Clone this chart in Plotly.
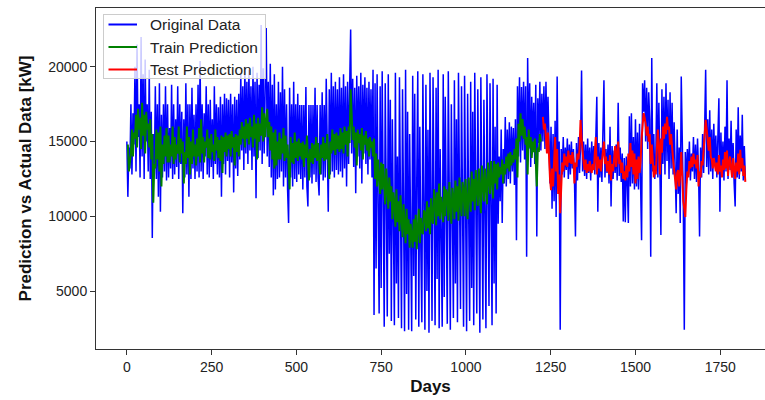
import plotly.graph_objects as go

# Daily load series sampled every 3 days (kW)
orig_step = 3
original = [
    15000, 11300, 14600, 13200, 17500, 12800, 16900, 14800, 20000, 13000,
    21500, 15300, 17500, 12600, 22000, 14000, 19500, 12500, 20500, 15000,
    17500, 13000, 19800, 12500, 17000, 8550, 15500, 12800, 18700, 12500,
    17500, 11300, 18900, 10300, 16800, 12600, 17500, 13000, 18700, 12400,
    17500, 12600, 15900, 13200, 18800, 12500, 17500, 12800, 16500, 13300,
    18700, 12500, 17500, 13500, 17000, 10200, 16500, 12600, 18900, 12800,
    17500, 11300, 17500, 12500, 18600, 13200, 16800, 12500, 17500, 13000,
    18800, 12600, 20400, 13000, 17500, 12500, 16900, 14000, 18700, 12800,
    17500, 12600, 17800, 13300, 16500, 12500, 18700, 13500, 17500, 12800,
    17300, 12600, 18000, 11300, 17500, 13500, 18200, 12800, 17900, 13700,
    17800, 12600, 18200, 13600, 17500, 11600, 18000, 13200, 17800, 12700,
    18200, 13800, 19500, 14400, 18700, 13100, 20000, 14200, 19000, 13500,
    19800, 14400, 18700, 13100, 20000, 14000, 19000, 11200, 19600, 13900,
    18800, 14400, 22800, 13500, 19900, 14200, 18700, 22600, 14000, 19000,
    13300, 20200, 12600, 18800, 11400, 19500, 11800, 17500, 12500, 19000,
    12600, 18300, 13000, 20000, 12000, 18500, 12600, 17500, 11800, 9550,
    18600, 12600, 17500, 12000, 19000, 12500, 17500, 12300, 18200, 12800,
    17450, 12500, 17450, 11800, 17450, 12600, 18650, 12000, 10650, 17450,
    12600, 17450, 12200, 17450, 12800, 18600, 12300, 17450, 12600, 11400,
    17450, 12800, 18300, 12400, 17450, 12600, 19200, 13100, 10300, 18500,
    12800, 19600, 13000, 18700, 12600, 19000, 13100, 18500, 12800, 19300,
    13000, 18600, 12600, 19500, 13200, 18700, 12000, 19000, 13500, 18500,
    22500, 14200, 19200, 13300, 18600, 11550, 19400, 14000, 18700, 13200,
    19600, 12200, 18800, 14200, 19300, 13500, 18600, 12800, 19000, 13800,
    18500, 12600, 19800, 3400, 18900, 6500, 19500, 10800, 3500, 18700,
    5200, 19700, 9000, 2600, 18900, 12000, 3300, 19500, 7500, 17800,
    3000, 16500, 10500, 2700, 19600, 5500, 14000, 3200, 19300, 8800,
    2500, 18500, 11500, 2300, 19800, 4800, 17000, 2400, 15500, 9500,
    2300, 19400, 6000, 18200, 3100, 12500, 19700, 2600, 16000, 7800,
    2900, 19500, 10500, 2400, 18800, 5000, 15800, 2200, 19600, 8200,
    3000, 19300, 11000, 2700, 18600, 5800, 19800, 2500, 14500, 9000,
    2600, 19500, 4600, 18000, 12000, 2800, 19700, 7000, 2400, 17500,
    10000, 3200, 19100, 5500, 16500, 2900, 19600, 8500, 3800, 18700,
    12000, 2600, 19400, 6200, 2300, 18200, 9500, 3000, 19000, 5200,
    17000, 2700, 19600, 10500, 3500, 18500, 6500, 2200, 19300, 11500,
    3100, 17800, 7500, 2500, 19500, 12500, 4000, 18900, 8800, 2700,
    19200, 5500, 16000, 3500, 18800, 9500, 14000, 11000, 15800, 9550,
    14500, 12200, 16650, 12000, 15800, 12500, 16300, 12200, 16000, 13000,
    15900, 12100, 16500, 8400, 18700, 14000, 19300, 13600, 18650, 14400,
    19000, 13800, 18700, 7300, 20600, 14500, 18900, 13300, 18000, 14800,
    17600, 13500, 18800, 8650, 17900, 14900, 19000, 14400, 18200, 15000,
    18700, 14500, 19000, 15300, 18000, 14600, 12200, 16000, 10500, 15500,
    11000, 16400, 9950, 19350, 12000, 15000, 2400, 14500, 12800, 15300,
    12600, 14600, 13100, 15200, 12500, 14800, 12800, 15000, 13200, 14500,
    12600, 8650, 14900, 12400, 15300, 12900, 14700, 19750, 13000, 15000,
    12700, 14800, 12500, 15200, 12900, 14600, 12400, 15000, 13100, 14700,
    12800, 15200, 18000, 10300, 14900, 12600, 14600, 12300, 15000, 19100,
    12600, 14500, 12900, 14800, 12200, 16000, 10650, 14700, 12500, 14400,
    12900, 14800, 12400, 17600, 12700, 14600, 12300, 14200, 9650, 13900,
    9600, 14000, 12200, 9550, 16700, 12000, 16900, 12200, 15300, 11800,
    16500, 12000, 15600, 11800, 16200, 12500, 8400, 18900, 17000, 19100,
    15000, 18600, 14500, 18300, 16500, 7300, 20600, 13000, 15500, 12500,
    14000, 18900, 12600, 17600, 12200, 8750, 18500, 13500, 18000, 12800,
    18900, 13700, 17800, 12500, 18300, 13200, 17600, 12800, 16300, 12000,
    10200, 15800, 11500, 14600, 9550, 19350, 15200, 11000, 2400, 14300,
    12200, 14500, 12800, 15000, 12400, 14200, 13000, 15300, 12500, 14800,
    12300, 15200, 13100, 8650, 14600, 12600, 15500, 12900, 15800, 19800,
    13300, 16500, 12800, 17100, 13000, 15800, 12500, 16200, 13400, 15400,
    12600, 14800, 17900, 10300, 15600, 12700, 15000, 12400, 16000, 13000,
    19100, 12500, 15200, 13100, 16400, 12600, 14900, 12200, 10650, 15800,
    12600, 17300, 12500, 15400, 13000, 16800, 12400, 14700, 12600,
]

# Model output on the training span (first day 3, every 3 days)
train_start = 3
train_pred = [
    14800, 13000, 13600, 14200, 15800, 14000, 15600, 15200, 16800, 14600,
    17200, 15800, 16600, 14500, 17600, 15400, 16800, 14200, 17000, 15800,
    16200, 14600, 16500, 13800, 15500, 10900, 13500, 13200, 15800, 13800,
    15600, 13000, 16000, 12000, 14800, 13500, 15400, 14000, 15900, 13600,
    15400, 13600, 14800, 14000, 16000, 13500, 15300, 13800, 14800, 14200,
    16000, 13600, 15200, 14200, 15000, 12200, 14300, 13500, 16000, 13900,
    15300, 12800, 15000, 13500, 15800, 14000, 14800, 13400, 15200, 14000,
    15900, 13600, 16500, 14200, 15300, 13600, 15000, 14600, 15800, 13900,
    15200, 13800, 15500, 14300, 14800, 13700, 15800, 14400, 15300, 13900,
    15100, 13700, 15400, 12900, 15300, 14300, 15600, 14000, 15400, 14500,
    15500, 14000, 15700, 14600, 15300, 13400, 15500, 14300, 15400, 14000,
    15800, 14800, 16300, 15200, 16000, 14600, 16500, 15200, 16200, 14800,
    16600, 15300, 16000, 14600, 16800, 15200, 16200, 13800, 16600, 15000,
    16200, 15400, 17300, 15000, 16900, 15300, 16400, 17200, 15300, 16300,
    14400, 16000, 13800, 15600, 13200, 15800, 13400, 15000, 13800, 15600,
    13800, 15200, 14200, 15900, 13700, 15400, 13900, 14800, 13400, 11800,
    15300, 13600, 14900, 13500, 15600, 13900, 15000, 13700, 15200, 14000,
    14900, 13800, 15000, 13300, 14800, 13900, 15400, 13500, 12400, 14500,
    13600, 14900, 13500, 14800, 13900, 15300, 13700, 14900, 13900, 12800,
    14800, 13900, 15300, 13700, 14900, 13800, 15500, 14200, 12500, 15000,
    14200, 15800, 14400, 15500, 14100, 15600, 14500, 15400, 14300, 15900,
    14500, 15600, 14200, 16000, 14800, 15700, 14000, 16000, 14900, 18500,
    16200, 15100, 16000, 14600, 15600, 13400, 15800, 14900, 15500, 14400,
    15900, 13800, 15400, 14800, 15700, 14400, 15200, 14000, 15300, 14600,
    15000, 14000, 15200, 12500, 14200, 12000, 13800, 12800, 11500, 13600,
    11800, 13500, 12200, 10800, 13200, 11800, 10500, 12600, 11000, 12000,
    9800, 11600, 10900, 9300, 11800, 9600, 11000, 9000, 11400, 9900,
    8600, 10800, 9800, 8200, 10500, 8800, 9800, 7900, 9500, 8800,
    7900, 9800, 8300, 10100, 7800, 9200, 10500, 8200, 9900, 9000,
    8800, 10400, 10200, 9000, 11000, 9200, 10600, 8800, 11200, 9800,
    9500, 11800, 11000, 9400, 11600, 10000, 12200, 9800, 11300, 10600,
    9600, 12000, 10000, 11800, 11500, 9700, 12300, 10600, 9500, 11900,
    11300, 9800, 12400, 10300, 12000, 9700, 12600, 11000, 10000, 12300,
    11800, 10000, 12500, 10800, 9800, 12600, 11600, 10300, 13000, 11000,
    12500, 10400, 13100, 12000, 10700, 13200, 11300, 10200, 13400, 12400,
    11000, 13200, 11800, 10800, 13600, 12800, 11500, 13700, 12300, 11200,
    13700, 12200, 13500, 11800, 13600, 12600, 13300, 12800, 13800, 12200,
    13500, 12800, 14000, 13200, 14200, 13000, 14300, 13400, 14100, 13600,
    14500, 13800, 15200, 12600, 16200, 15000, 16900, 15400, 16500, 15200,
    16000, 14800, 15300, 12800, 15800, 14600, 15300, 13900, 15000, 14300,
    15200, 14000, 12000, 14600, 14300, 15500, 15000,
]

# Model output on the held-out span (first day 1227, every 3 days)
test_start = 1227
test_pred = [
    16650, 15800, 16200, 15000, 14200, 15600, 13800, 12500, 11750, 13200,
    12000, 14000, 15300, 13000, 14500, 11500, 12800, 10200, 11800, 13600,
    13000, 14200, 13400, 14000, 13300, 14400, 13600, 14100, 13500, 14300,
    13800, 12200, 13600, 13300, 14200, 13800, 14500, 16450, 15200, 14000,
    13600, 13100, 13800, 12900, 13500, 13000, 13700, 13200, 12900, 13500,
    13100, 14200, 15300, 12800, 14000, 13200, 13800, 13000, 13600, 14600,
    15000, 13500, 14000, 13000, 13700, 12800, 14100, 12400, 13500, 13000,
    14000, 14700, 13300, 14200, 15000, 13500, 13800, 12900, 13600, 12500,
    13000, 12400, 13400, 12600, 14200, 13000, 14900, 13300, 14400, 12800,
    14200, 12200, 13800, 12500, 14000, 12900, 13600, 15200, 16300, 16900,
    16600, 16200, 15400, 16000, 15000, 15500, 13500, 14800, 13750, 12600,
    13400, 12800, 14500, 15800, 14600, 12800, 15200, 14250, 16000, 15200,
    16200, 15500, 16650, 15800, 16000, 14800, 15500, 14300, 13800, 13100,
    12600, 11800, 12900, 13100, 12000, 12800, 14300, 12500, 11000, 10500,
    9950, 11800, 13000, 12600, 13700, 13200, 14000, 13300, 14200, 13500,
    13800, 13200, 14100, 12000, 13000, 12600, 13700, 13400, 14400, 15200,
    16450, 15800, 15000, 14400, 15300, 14000, 13800, 13200, 13900, 13500,
    13000, 13600, 12800, 14100, 13000, 13400, 12600, 13800, 13100, 14300,
    13200, 14400, 12700, 13600, 14000, 13200, 12600, 13900, 12900, 12500,
    13600, 13000, 14200, 12800, 14450, 13200, 13900, 12700, 13400, 12300,
]

series_names = ["Original Data", "Train Prediction", "Test Prediction"]
series_colors = ["#0000ff", "#008000", "#ff0000"]
x_ticks = [0, 250, 500, 750, 1000, 1250, 1500, 1750]
y_ticks = [5000, 10000, 15000, 20000]

x_range = [-91, 1882]
y_range = [1118, 23940]

days_orig = [i * orig_step for i in range(len(original))]
days_train = [train_start + i * orig_step for i in range(len(train_pred))]
days_test = [test_start + i * orig_step for i in range(len(test_pred))]

fig = go.Figure()
for xs, ys, name, color, width in [
    (days_orig, original, series_names[0], series_colors[0], 1.5),
    (days_train, train_pred, series_names[1], series_colors[1], 2),
    (days_test, test_pred, series_names[2], series_colors[2], 2),
]:
    fig.add_trace(go.Scatter(x=xs, y=ys, mode="lines", name=name,
                             line=dict(color=color, width=width),
                             showlegend=False, hoverinfo="skip"))

# Legend in the upper-left corner, laid out in pixels from the plot origin
plot_w, plot_h = 669, 341
def fx(p):
    return p / plot_w
def fy(p):
    return 1 - p / plot_h

box_l, box_t, box_w, box_h = 7, 6, 163, 65
annotations = [dict(
    xref="paper", yref="paper", x=fx(box_l), y=fy(box_t),
    xanchor="left", yanchor="top", showarrow=False, text=" ",
    width=box_w - 2, height=box_h - 2, borderpad=0,
    bgcolor="rgba(255,255,255,0.8)", bordercolor="#cccccc", borderwidth=1,
)]
row_h = 22.5
for k, (name, color) in enumerate(zip(series_names, series_colors)):
    yc = box_t + 10.5 + k * row_h
    # legend line sample, drawn as a headless arrow
    annotations.append(dict(
        xref="paper", yref="paper", x=fx(box_l + 34), y=fy(yc),
        ax=-30, ay=0, text="", showarrow=True, arrowhead=0,
        arrowwidth=2, arrowcolor=color, standoff=0, startstandoff=0))
    annotations.append(dict(
        xref="paper", yref="paper", x=fx(box_l + 45), y=fy(yc),
        xanchor="left", yanchor="middle", showarrow=False,
        text=name, font=dict(size=15.5, color="#222222")))

font_family = "Liberation Sans, Arial, sans-serif"
axis_color = "#333333"

fig.update_layout(
    width=765, height=400,
    margin=dict(l=96, r=0, t=8, b=51),
    paper_bgcolor="white", plot_bgcolor="white",
    font=dict(family=font_family, size=14, color="#222222"),
    showlegend=False,
    annotations=annotations,
    xaxis=dict(
        range=x_range,
        tickmode="array", tickvals=x_ticks,
        ticktext=[str(v) for v in x_ticks],
        ticks="outside", ticklen=5, tickwidth=1, tickcolor=axis_color,
        showline=True, linecolor=axis_color, linewidth=1, mirror=True,
        showgrid=False, zeroline=False,
        tickfont=dict(size=14, color="#222222"),
        title=dict(text="<b>Days</b>", font=dict(size=17, color="#111111"),
                   standoff=6),
    ),
    yaxis=dict(
        range=y_range,
        tickmode="array", tickvals=y_ticks,
        ticktext=[str(v) for v in y_ticks],
        ticks="outside", ticklen=5, tickwidth=1, tickcolor=axis_color,
        showline=True, linecolor=axis_color, linewidth=1, mirror=False,
        showgrid=False, zeroline=False,
        tickfont=dict(size=14, color="#222222"),
        title=dict(text="<b>Prediction vs Actual Data [kW]</b>",
                   font=dict(size=17, color="#111111"), standoff=12),
    ),
)

fig.write_html("out.html")
